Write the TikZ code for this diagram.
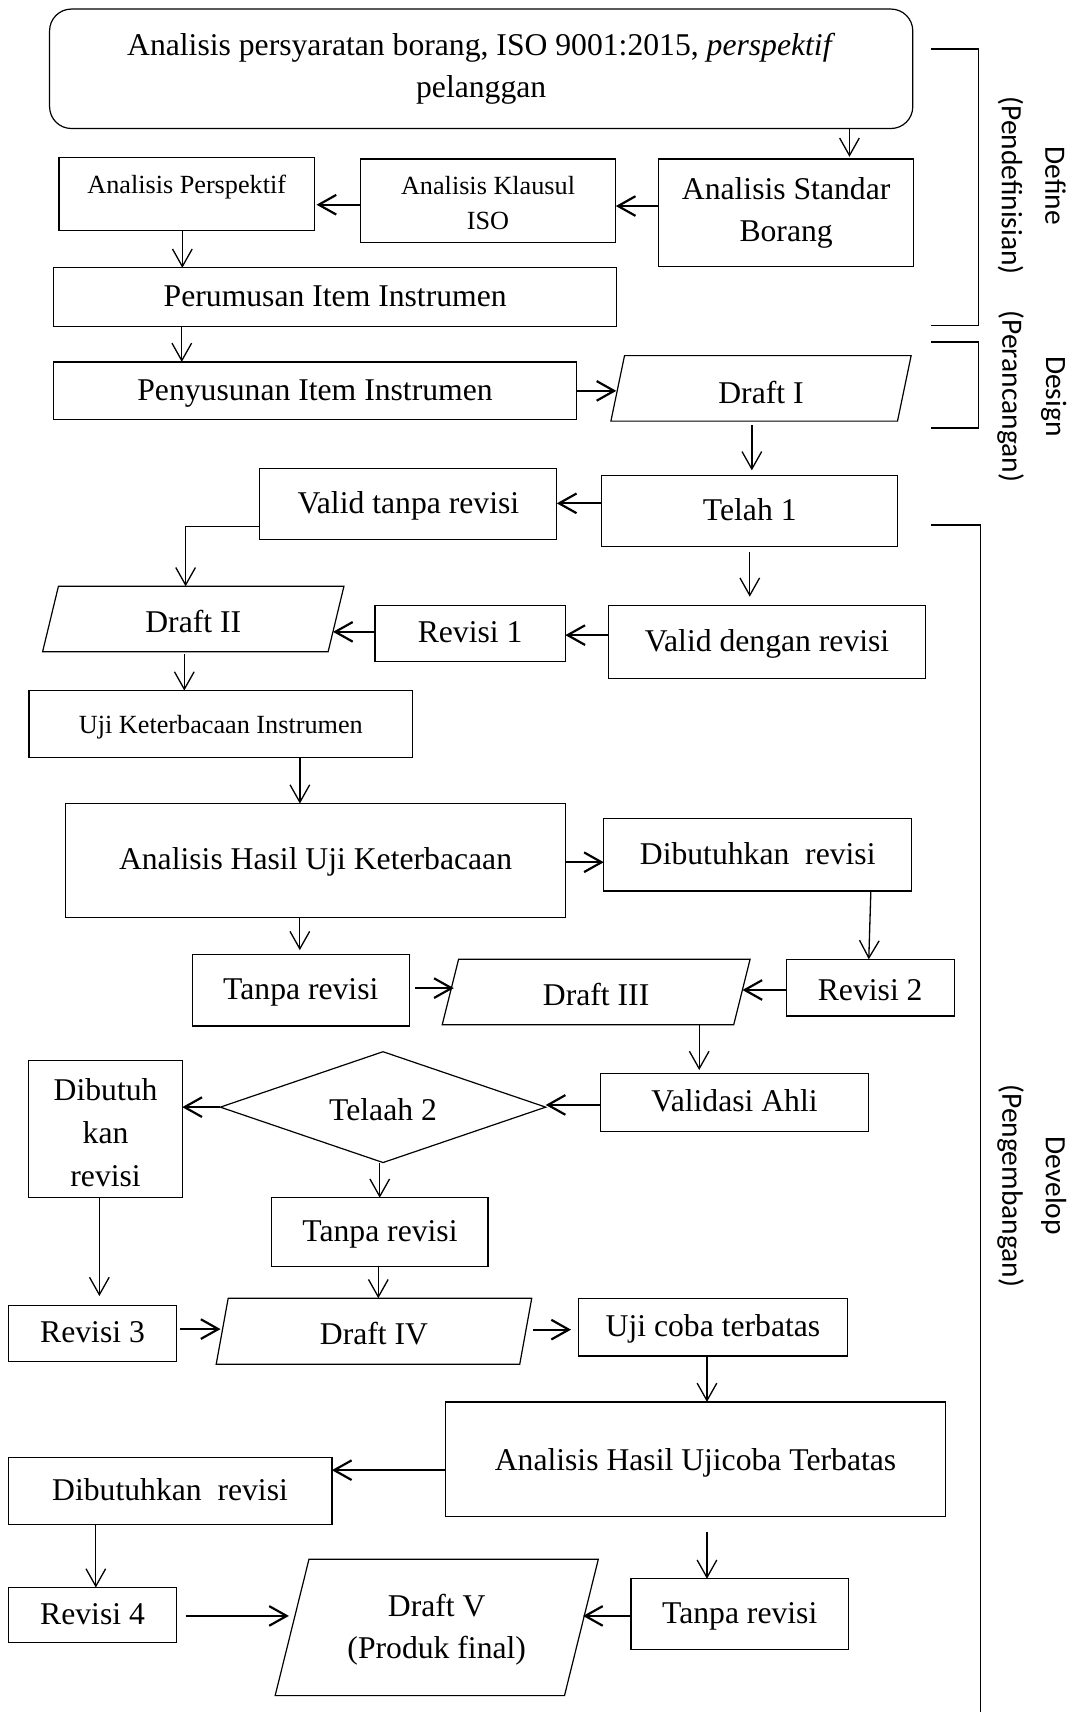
\documentclass[tikz,border=0pt]{standalone}
\usepackage{fontspec}
\setmainfont{Liberation Serif}
\newfontfamily\lblfont{Carlito}
\usetikzlibrary{shapes.geometric,arrows.meta}
\newcommand\bigf{\fontsize{29}{39}\selectfont}
\newcommand\smallf{\fontsize{24}{32}\selectfont}
\newcommand\paradraw[2]{\draw[line width=1.1pt] ([xshift=#2]#1.north west) -- (#1.north east) -- ([xshift=-#2]#1.south east) -- (#1.south west) -- cycle;}
\tikzset{
  box/.style={draw, line width=1.1pt, rectangle, inner sep=0pt, outer sep=0pt, align=center, font=\bigf},
  small/.style={font=\smallf},
  oneline/.style={text height=20pt, text depth=3pt},
  onesmall/.style={text height=17pt, text depth=0pt},
  draftline/.style={text height=25pt, text depth=0pt},
  paranode/.style={draw=none, rectangle, inner sep=0pt, outer sep=0pt, align=center, font=\bigf},
  varr/.style={line width=1.2pt, -{Straight Barb[length=16pt,width=18pt]}},
  harr/.style={line width=2pt, -{Straight Barb[length=16pt,width=18pt]}},
  brk/.style={line width=1.4pt},
  lbl/.style={rotate=-90, align=center, font=\lblfont\fontsize{27}{40}\selectfont, inner sep=0pt}
}
\begin{document}
\begin{tikzpicture}[x=1pt,y=1pt]
\useasboundingbox (0,0) rectangle (983,-1568);
% Define stage
\node[box, rounded corners=20pt, minimum width=790.6, minimum height=109.4] (top) at (440.7,-63) {Analisis persyaratan borang, ISO 9001:2015, \textit{perspektif}\\pelanggan};
\node[box, minimum width=234, minimum height=98.7] (std) at (720,-195) {Analisis Standar\\Borang};
\node[box, small, minimum width=234, minimum height=76.7] (kla) at (447,-184) {\rule{0pt}{20.4pt}Analisis Klausul\\ISO};
\node[box, small, minimum width=233.8, minimum height=67, text height=17pt, text depth=19pt] (per) at (171,-177.9) {Analisis Perspektif};
\node[box, oneline, minimum width=516, minimum height=53.4] (rum) at (307,-272) {Perumusan Item Instrumen};
% Design stage
\node[box, oneline, minimum width=479, minimum height=53] (sus) at (288.5,-358) {Penyusunan Item Instrumen};
\node[paranode, text height=27pt, text depth=0pt, minimum width=275, minimum height=60] (d1) at (697,-355.7) {Draft I};
\paradraw{d1}{12.5}
% Develop stage
\node[box, oneline, minimum width=271, minimum height=65] (tel1) at (686.7,-468.3) {Telah 1};
\node[box, oneline, minimum width=272, minimum height=65] (vtr) at (374,-461.5) {Valid tanpa revisi};
\node[box, oneline, minimum width=290, minimum height=67] (vdr) at (702.5,-588) {Valid dengan revisi};
\node[box, oneline, minimum width=174.4, minimum height=51] (rev1) at (430.6,-580) {Revisi 1};
\node[paranode, draftline, minimum width=276, minimum height=60] (d2) at (177,-567) {Draft II};
\paradraw{d2}{14.5}
\node[box, small, onesmall, minimum width=351.5, minimum height=61] (uji) at (202.25,-663) {Uji Keterbacaan Instrumen};
\node[box, oneline, minimum width=458, minimum height=104] (ahk) at (289,-788) {Analisis Hasil Uji Keterbacaan};
\node[box, oneline, minimum width=282, minimum height=66] (dbr1) at (694,-783) {Dibutuhkan\ \ revisi};
\node[box, text height=23pt, text depth=0pt, minimum width=154, minimum height=52] (rev2) at (797,-904.6) {Revisi 2};
\node[paranode, draftline, minimum width=282, minimum height=60] (d3) at (546,-908.6) {Draft III};
\paradraw{d3}{15}
\node[box, oneline, minimum width=199, minimum height=65.5] (tr1) at (275.5,-907) {Tanpa revisi};
\node[box, oneline, minimum width=246, minimum height=53] (va) at (672.7,-1009.5) {Validasi Ahli};
\node[draw, line width=1.1pt, diamond, aspect=2.94, minimum width=298, minimum height=101.5, inner sep=0pt, outer sep=0pt, font=\bigf, text height=25pt, text depth=0pt] (tel2) at (350.8,-1014) {Telaah 2};
\node[box, minimum width=140.5, minimum height=125.5] (dkr) at (96.7,-1034) {\rule{0pt}{27pt}Dibutuh\\kan\\revisi};
\node[box, oneline, minimum width=198, minimum height=63] (tr2) at (348,-1128.5) {Tanpa revisi};
\node[box, oneline, minimum width=154.5, minimum height=51.5] (rev3) at (84.75,-1221.3) {Revisi 3};
\node[paranode, draftline, minimum width=289, minimum height=60.5] (d4) at (342.5,-1219.3) {Draft IV};
\paradraw{d4}{11}
\node[box, oneline, minimum width=246, minimum height=53] (uct) at (653,-1215.5) {Uji coba terbatas};
\node[box, text height=21.4pt, text depth=0pt, minimum width=458, minimum height=105] (ahu) at (637,-1336.5) {Analisis Hasil Ujicoba Terbatas};
\node[box, oneline, minimum width=296.5, minimum height=61] (dbr2) at (155.75,-1365.5) {Dibutuhkan\ \ revisi};
\node[box, oneline, minimum width=154.5, minimum height=50] (rev4) at (84.75,-1479) {Revisi 4};
\node[paranode, minimum width=296, minimum height=125] (d5) at (400,-1490.5) {\rule{0pt}{25pt}Draft V\\(Produk final)};
\paradraw{d5}{31}
\node[box, oneline, minimum width=199, minimum height=65] (tr3) at (677.5,-1478.5) {Tanpa revisi};
% connectors
\draw[varr] ([xshift=58]std.north |- top.south) -- ([xshift=58,yshift=2]std.north);
\draw[harr] ([yshift=6.3]std.west) -- ([yshift=6.3]std.west -| kla.east);
\draw[harr] ([yshift=-3.5]kla.west) -- ([xshift=2,yshift=-3.5]kla.west -| per.east);
\draw[varr] ([xshift=-4]per.south) -- ([xshift=-4]per.south |- rum.north);
\draw[varr] ([xshift=-140.5]rum.south) -- ([xshift=-140.5]rum.south |- sus.north);
\draw[harr] (sus.east) -- ([xshift=5]d1.west |- sus.east);
\draw[varr] ([xshift=-8.4,yshift=-4]d1.south) -- ([xshift=-8.4,yshift=5]d1.south |- tel1.north);
\draw[harr] ([yshift=7.3]tel1.west) -- ([yshift=7.3]tel1.west -| vtr.east);
\draw[varr] ([yshift=-21]vtr.west) -| ([xshift=-7]d2.north);
\draw[varr] ([yshift=-5]tel1.south) -- ([yshift=8]tel1.south |- vdr.north);
\draw[harr] ([yshift=6.3]vdr.west) -- ([yshift=6.3]vdr.west -| rev1.east);
\draw[harr] ([yshift=1.3]rev1.west) -- ([xshift=-10,yshift=1.3]rev1.west -| d2.east);
\draw[varr] ([xshift=-8.2,yshift=-2]d2.south) -- ([xshift=-8.2]d2.south |- uji.north);
\draw[varr] ([xshift=72.4]uji.south) -- ([xshift=72.4]uji.south |- ahk.north);
\draw[harr] ([yshift=-1.7]ahk.east) -- ([yshift=-1.7]ahk.east -| dbr1.west);
\draw[varr] ([xshift=103.6]dbr1.south) -- ([xshift=-1.3]rev2.north);
\draw[harr] ([yshift=-2.1]rev2.west) -- ([xshift=-7,yshift=-2.1]rev2.west -| d3.east);
\draw[varr] ([xshift=-14.4]ahk.south) -- ([xshift=-14.4,yshift=4]ahk.south |- tr1.north);
\draw[harr] ([xshift=5,yshift=2]tr1.east) -- ([xshift=10.6,yshift=2]tr1.east -| d3.west);
\draw[varr] ([xshift=94.4]d3.south) -- ([xshift=94.4,yshift=3]d3.south |- va.north);
\draw[harr] ([yshift=-2.5]va.west) -- ([yshift=-2.5]va.west -| tel2.east);
\draw[harr] (tel2.west) -- (tel2.west -| dkr.east);
\draw[varr] ([xshift=-3]tel2.south) -- ([xshift=-3]tel2.south |- tr2.north);
\draw[varr] ([xshift=-5.7]dkr.south) -- ([xshift=-5.7,yshift=8.5]dkr.south |- rev3.north);
\draw[varr] ([xshift=-1.5]tr2.south) -- ([xshift=-1.5]tr2.south |- d4.north);
\draw[harr] ([xshift=3,yshift=4]rev3.east) -- ([xshift=4,yshift=4]rev3.east -| d4.west);
\draw[harr] ([xshift=1,yshift=1.5]d4.east) -- ([xshift=-7,yshift=1.5]d4.east -| uct.west);
\draw[varr] ([xshift=-5.5]uct.south) -- ([xshift=-5.5]uct.south |- ahu.north);
\draw[harr] ([yshift=-10]ahu.west) -- ([yshift=-10]ahu.west -| dbr2.east);
\draw[varr] ([xshift=-68]dbr2.south) -- ([xshift=-68]dbr2.south |- rev4.north);
\draw[harr] ([xshift=8,yshift=-1]rev4.east) -- ([xshift=12.6,yshift=-1]rev4.east -| d5.west);
\draw[varr] ([xshift=10.5,yshift=-14]ahu.south) -- ([xshift=10.5]ahu.south |- tr3.north);
\draw[harr] ([yshift=-1.5]tr3.west) -- ([xshift=-14,yshift=-1.5]tr3.west -| d5.east);
% stage brackets
\draw[brk] (853,-45) -- (896,-45) -- (896,-298) -- (853,-298);
\draw[brk] (853,-313) -- (896,-313) -- (896,-392) -- (853,-392);
\draw[brk] (853,-481) -- (898,-481) -- (898,-1568);
\node[lbl] (lbDefine) at (945,-170) {Define\\(Pendefinisian)};
\node[lbl] (lbDesign) at (945,-363) {Design\\(Perancangan)};
\node[lbl] (lbDevelop) at (945,-1086) {Develop\\(Pengembangan)};
\end{tikzpicture}
\end{document}
